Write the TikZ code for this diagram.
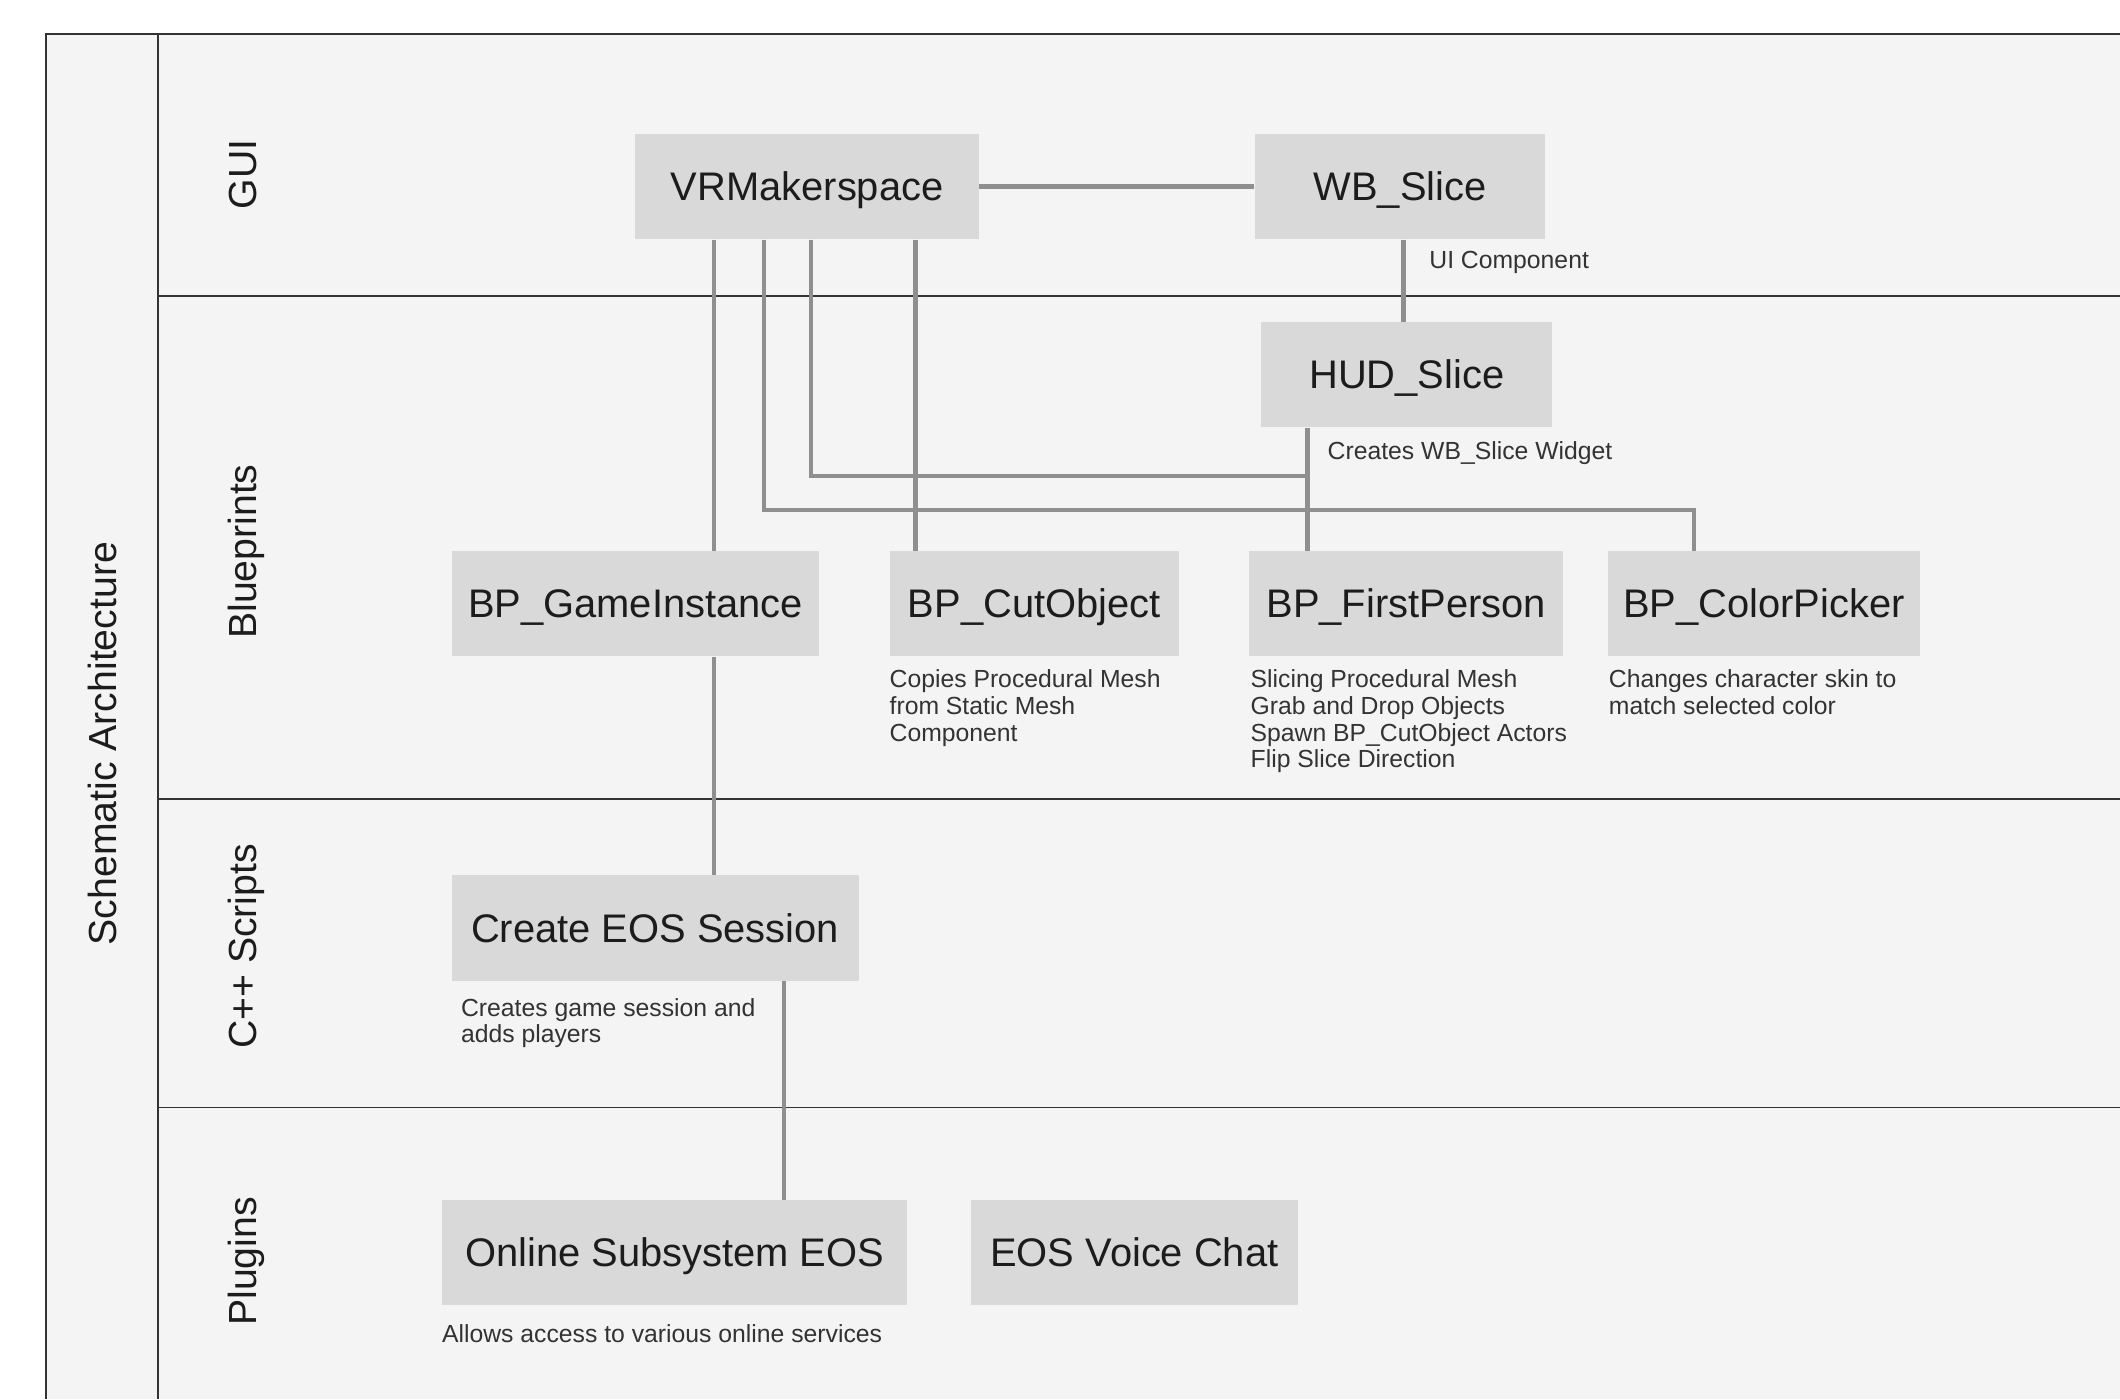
\documentclass[tikz,border=0pt]{standalone}
\usepackage{fontspec}
\setmainfont{Liberation Sans}
\usepackage{tikz}
\usetikzlibrary{positioning}

\definecolor{lanebg}{HTML}{F4F4F4}
\definecolor{boxfill}{HTML}{D9D9D9}
\definecolor{linkgray}{HTML}{8F8F8F}
\definecolor{framegray}{HTML}{333333}
\definecolor{inkblack}{HTML}{1C1C1C}

\begin{document}
\begin{tikzpicture}[x=1pt, y=-1pt,
    block/.style={fill=boxfill, text=inkblack, minimum height=78pt, inner sep=0pt,
        text height=21pt, text depth=0pt, font=\fontsize{29.5}{34}\selectfont},
    note/.style={text=inkblack!90, inner sep=0pt, align=left,
        font=\fontsize{18.3}{19.7}\selectfont},
    lane/.style={text=inkblack, rotate=90, inner sep=0pt, text height=21pt, text depth=6pt,
        font=\fontsize{29}{34}\selectfont},
    link/.style={draw=linkgray, line width=3.2pt},
    frame/.style={draw=framegray, line width=1.2pt}]

    \useasboundingbox (0,0) rectangle (1568,1035);

    % Swimlanes
    \fill[lanebg] (34,25) rectangle (1568,1035);
    \draw[frame] (1568,25) -- (34,25) -- (34,1035);
    \draw[frame] (117,25) -- (117,1035);
    \foreach \y in {219,591,819}
        \draw[frame] (117,\y) -- (1568,\y);

    % Lane labels
    \node[lane] (title) at (79,550) {Schematic Architecture};
    \node[lane] (guilane) at (182,129) {GUI};
    \node[lane] (bplane) at (182,408) {Blueprints};
    \node[lane] (cpplane) at (182,700) {C++ Scripts};
    \node[lane] (pluglane) at (182,933) {Plugins};

    % GUI
    \node[block, minimum width=254pt] (vr) at (597,138) {VRMakerspace};
    \node[block, minimum width=215pt] (wb) at (1035.5,138) {WB\_Slice};

    % Blueprints
    \node[block, minimum width=215pt] (hud) at (1040.5,277) {HUD\_Slice};
    \node[block, minimum width=272pt] (gi) at (470,446.5) {BP\_GameInstance};
    \node[block, minimum width=214pt] (cut) at (765,446.5) {BP\_CutObject};
    \node[block, minimum width=232pt] (fp) at (1040,446.5) {BP\_FirstPerson};
    \node[block, minimum width=231pt] (cp) at (1304.5,446.5) {BP\_ColorPicker};

    % C++ Scripts
    \node[block, minimum width=301pt] (eos) at (484.5,686.5) {Create EOS Session};

    % Plugins
    \node[block, minimum width=344pt] (oss) at (499,926.5) {Online Subsystem EOS};
    \node[block, minimum width=242pt] (voice) at (839,926.5) {EOS Voice Chat};

    % Notes
    \node[note, below right=8.5pt and 21.5pt of wb.south] (wbnote) {UI Component};
    \node[note, below right=10.5pt and 49pt of hud.south west] (hudnote) {Creates WB\_Slice Widget};
    \node[note, below right=9.5pt and 0pt of cut.south west] (cutnote)
        {Copies Procedural Mesh\\from Static Mesh\\Component};
    \node[note, below right=9.5pt and 1pt of fp.south west] (fpnote)
        {Slicing Procedural Mesh\\Grab and Drop Objects\\Spawn BP\_CutObject Actors\\Flip Slice Direction};
    \node[note, below right=9.5pt and 1pt of cp.south west] (cpnote)
        {Changes character skin to\\match selected color};
    \node[note, below right=12.5pt and 7pt of eos.south west] (eosnote)
        {Creates game session and\\adds players};
    \node[note, below right=13.5pt and 0pt of oss.south west] (ossnote)
        {Allows access to various online services};

    % Links
    \draw[link] (vr.east) -- (wb.west);
    \draw[link] ([xshift=2.5pt]wb.south) -- ([xshift=-2.5pt]hud.north);
    \draw[link] ([xshift=-69pt]vr.south) -- ([xshift=58pt]gi.north);
    \draw[link] ([xshift=-32pt]vr.south) -- ++(0,200) -| ([xshift=-51.5pt]cp.north);
    \draw[link] ([xshift=3pt]vr.south) |- ([xshift=-73.5pt,yshift=-36pt]hud.south);
    \draw[link] ([xshift=80pt]vr.south) -- ([xshift=-88pt]cut.north);
    \draw[link] ([xshift=-73.5pt]hud.south) -- ([xshift=-73pt]fp.north);
    \draw[link] ([xshift=58pt]gi.south) -- ([xshift=43.5pt]eos.north);
    \draw[link] ([xshift=95.5pt]eos.south) -- ([xshift=81pt]oss.north);
\end{tikzpicture}
\end{document}
